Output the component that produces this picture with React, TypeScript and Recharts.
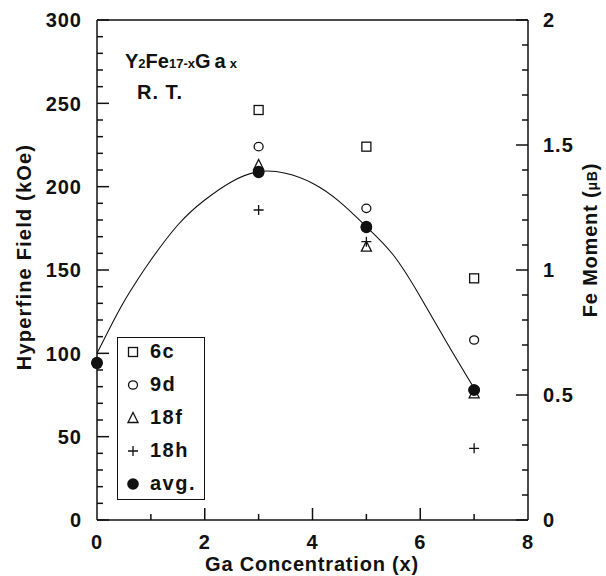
import {
  ComposedChart,
  Scatter,
  Line,
  XAxis,
  YAxis,
  ReferenceLine,
  Legend,
  Customized,
} from 'recharts'

const FONT = '"Liberation Sans", Arial, Helvetica, sans-serif'
const INK = '#111'

// Ga content for the site-resolved fields
const gaX = [3, 5, 7]
const site6c = [246, 224, 145]
const site9d = [224, 187, 108]
const site18f = [213, 164, 76]
const site18h = [186, 167, 43]

// weighted average field, including the pure Y2Fe17 point
const avgX = [0, 3, 5, 7]
const avgField = [94, 209, 176, 78]
// same averages read on the moment scale
const avgMoment = [0.63, 1.39, 1.17, 0.52]

// smooth guide line through the averages
const fitX = [0, 0.25, 0.5, 0.75, 1, 1.5, 2, 2.5, 3, 3.5, 4, 4.5, 5, 5.5, 6, 6.5, 7]
const fitField = [100, 116, 131, 144, 156, 177, 192, 203, 209, 208, 202, 191, 176, 159, 134, 106, 79]

const siteNames = ['6c', '9d', '18f', '18h', 'avg.']
const xTicks = [0, 1, 2, 3, 4, 5, 6, 7, 8]
const fieldTicks = Array.from({ length: 31 }, (_, i) => i * 10)
const momentTicks = Array.from({ length: 21 }, (_, i) => i / 10)

const toPoints = (xs: number[], ys: number[]) => xs.map((x, i) => ({ x, y: ys[i] }))

function marker(kind: string, cx: number, cy: number) {
  switch (kind) {
    case '6c':
      return <rect x={cx - 4.5} y={cy - 4.5} width={9} height={9} fill="#fff" stroke={INK} strokeWidth={1.3} />
    case '9d':
      return <ellipse cx={cx} cy={cy} rx={4.5} ry={4.2} fill="#fff" stroke={INK} strokeWidth={1.3} />
    case '18f':
      return (
        <path
          d={`M${cx},${cy - 5.5} L${cx + 5},${cy + 4.5} L${cx - 5},${cy + 4.5} Z`}
          fill="#fff"
          stroke={INK}
          strokeWidth={1.3}
        />
      )
    case '18h':
      return (
        <path d={`M${cx - 5},${cy} H${cx + 5} M${cx},${cy - 5} V${cy + 5}`} stroke={INK} strokeWidth={1.3} fill="none" />
      )
    default:
      return <circle cx={cx} cy={cy} r={5.8} fill={INK} />
  }
}

const shapeFor = (kind: string) => (props: any) => <g>{marker(kind, props.cx, props.cy)}</g>

const tickText = {
  fontFamily: FONT,
  fontWeight: 'bold' as const,
  fontSize: 20,
  letterSpacing: 1,
  fill: INK,
}

// ticks point into the plot; long ones carry labels
function LeftTick({ x, y, payload }: any) {
  const ax = x + 15
  const major = payload.value % 50 === 0
  return (
    <g>
      <line x1={ax} x2={ax + (major ? 12 : 6)} y1={y} y2={y} stroke={INK} strokeWidth={1.5} />
      {major && (
        <text x={x} y={y} dy="0.36em" textAnchor="end" {...tickText}>
          {payload.value}
        </text>
      )}
    </g>
  )
}

function RightTick({ x, y, payload }: any) {
  const ax = x - 15
  const major = Math.round(payload.value * 10) % 5 === 0
  return (
    <g>
      <line x1={ax} x2={ax - (major ? 12 : 6)} y1={y} y2={y} stroke={INK} strokeWidth={1.5} />
      {major && (
        <text x={x} y={y} dy="0.36em" textAnchor="start" {...tickText}>
          {String(payload.value)}
        </text>
      )}
    </g>
  )
}

function BottomTick({ x, y, payload }: any) {
  const ay = y - 15
  const major = payload.value % 2 === 0
  const edge = payload.value === 0 || payload.value === 8
  return (
    <g>
      {!edge && <line x1={x} x2={x} y1={ay} y2={ay - (major ? 12 : 6)} stroke={INK} strokeWidth={1.5} />}
      {major && (
        <text x={x} y={y} dy="0.72em" textAnchor="middle" {...tickText}>
          {payload.value}
        </text>
      )}
    </g>
  )
}

function LegendBox({ payload }: any) {
  const present = new Set((payload || []).map((p: any) => p.value))
  const items = siteNames.filter((n) => present.has(n))
  return (
    <div
      style={{
        border: `1.5px solid ${INK}`,
        background: '#fff',
        width: 86,
        height: 161,
        fontFamily: FONT,
        fontWeight: 'bold',
        fontSize: 20,
        letterSpacing: 1.5,
        color: INK,
        textAlign: 'left',
      }}
    >
      {items.map((name, i) => (
        <div key={name} style={{ display: 'flex', alignItems: 'center', height: 33, marginTop: i === 0 ? -3 : 0 }}>
          <svg width={30} height={20} style={{ flex: 'none' }}>
            {marker(name, 15, 10)}
          </svg>
          <span style={{ marginLeft: 2 }}>{name}</span>
        </div>
      ))}
    </div>
  )
}

function Titles() {
  const t = { fontFamily: FONT, fontWeight: 'bold' as const, fill: INK }
  return (
    <g>
      <text x={125} y={68} fontSize={20} {...t}>
        Y<tspan fontSize={13}>2</tspan>Fe<tspan fontSize={13}>17-x</tspan>
        <tspan letterSpacing={4}>Ga</tspan>
        <tspan fontSize={13}>x</tspan>
      </text>
      <text x={137} y={99} fontSize={20} letterSpacing={1} {...t}>
        R. T.
      </text>
      <text x={312} y={571} fontSize={20} textAnchor="middle" letterSpacing={0.8} {...t}>
        Ga  Concentration  (x)
      </text>
      <text transform="translate(31,257) rotate(-90)" fontSize={20} textAnchor="middle" letterSpacing={1.2} {...t}>
        Hyperfine  Field  (kOe)
      </text>
      <text transform="translate(597,240) rotate(-90)" fontSize={20} textAnchor="middle" letterSpacing={0.8} {...t}>
        Fe  Moment  (<tspan fontSize={14}>μB</tspan>)
      </text>
    </g>
  )
}

export default function App() {
  return (
    <div style={{ position: 'absolute', left: 0, top: 0, width: 606, height: 576, background: '#fff' }}>
      <ComposedChart width={606} height={576} margin={{ top: 20, right: 18, bottom: 26, left: 37 }}>
        <XAxis
          type="number"
          dataKey="x"
          domain={[0, 8]}
          ticks={xTicks}
          interval={0}
          tickSize={0}
          tickMargin={15}
          height={30}
          tick={<BottomTick />}
          axisLine={{ stroke: INK, strokeWidth: 1.5 }}
        />
        <YAxis
          yAxisId="left"
          type="number"
          domain={[0, 300]}
          ticks={fieldTicks}
          interval={0}
          tickSize={0}
          tickMargin={15}
          width={60}
          tick={<LeftTick />}
          axisLine={{ stroke: INK, strokeWidth: 1.5 }}
        />
        <YAxis
          yAxisId="right"
          orientation="right"
          type="number"
          domain={[0, 2]}
          ticks={momentTicks}
          interval={0}
          tickSize={0}
          tickMargin={15}
          width={60}
          tick={<RightTick />}
          axisLine={{ stroke: INK, strokeWidth: 1.5 }}
        />
        <ReferenceLine yAxisId="left" y={300} stroke={INK} strokeWidth={1.5} />
        <Line
          yAxisId="left"
          data={toPoints(fitX, fitField)}
          dataKey="y"
          type="natural"
          stroke={INK}
          strokeWidth={1.1}
          dot={false}
          activeDot={false}
          legendType="none"
          isAnimationActive={false}
        />
        <Scatter yAxisId="left" name="6c" data={toPoints(gaX, site6c)} dataKey="y" shape={shapeFor('6c')} isAnimationActive={false} />
        <Scatter yAxisId="left" name="9d" data={toPoints(gaX, site9d)} dataKey="y" shape={shapeFor('9d')} isAnimationActive={false} />
        <Scatter yAxisId="left" name="18f" data={toPoints(gaX, site18f)} dataKey="y" shape={shapeFor('18f')} isAnimationActive={false} />
        <Scatter yAxisId="left" name="18h" data={toPoints(gaX, site18h)} dataKey="y" shape={shapeFor('18h')} isAnimationActive={false} />
        <Scatter yAxisId="left" name="avg." data={toPoints(avgX, avgField)} dataKey="y" shape={shapeFor('avg.')} isAnimationActive={false} />
        <Scatter
          yAxisId="right"
          name="moment"
          data={toPoints(avgX, avgMoment)}
          dataKey="y"
          shape={shapeFor('avg.')}
          legendType="none"
          isAnimationActive={false}
        />
        <Legend
          layout="vertical"
          align="center"
          verticalAlign="middle"
          content={<LegendBox />}
          wrapperStyle={{ position: 'absolute', left: 117, top: 337, width: 'auto', height: 'auto' }}
        />
        <Customized component={Titles} />
      </ComposedChart>
    </div>
  )
}
